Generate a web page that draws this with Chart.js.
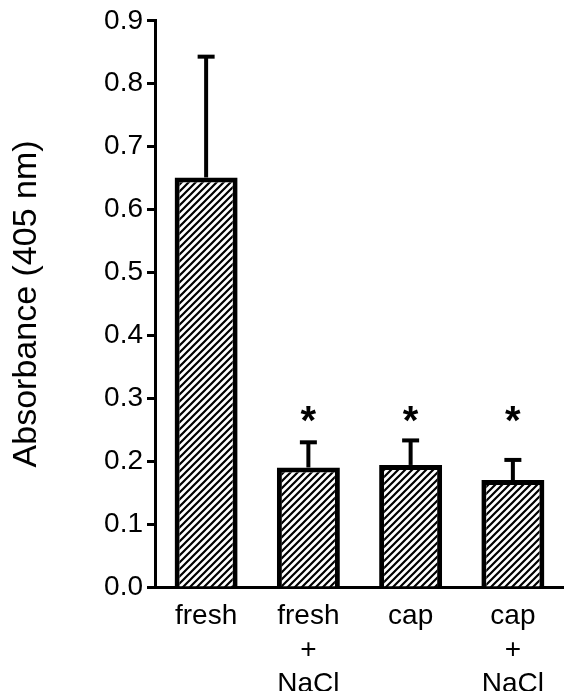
<!DOCTYPE html>
<html><head><meta charset="utf-8">
<script src="https://cdn.jsdelivr.net/npm/chart.js@4/dist/chart.umd.min.js"></script>
<style>html,body{margin:0;padding:0;background:#fff;overflow:hidden}#wrap{width:564px;height:691px;position:relative}</style>
</head><body><div id="wrap"><canvas id="c" width="564" height="691"></canvas></div>
<script>
const categories = [["fresh"], ["fresh", "+", "NaCl"], ["cap"], ["cap", "+", "NaCl"]];
const means = [0.651, 0.190, 0.194, 0.170];
const errorTops = [0.843, 0.230, 0.233, 0.202];
const significant = [false, true, true, true];
const markerLevel = 0.279;
const yTickValues = [0.0, 0.1, 0.2, 0.3, 0.4, 0.5, 0.6, 0.7, 0.8, 0.9];
const yTitle = "Absorbance (405 nm)";

const FONT = '"Liberation Sans", Arial, Helvetica, sans-serif';
const canvas = document.getElementById('c');
const ctx = canvas.getContext('2d');

function makeHatch() {
  const s = 7;
  const c = document.createElement('canvas');
  c.width = s; c.height = s;
  const g = c.getContext('2d');
  g.fillStyle = '#fff'; g.fillRect(0, 0, s, s);
  g.strokeStyle = '#000'; g.lineWidth = 2.2;
  g.beginPath();
  g.moveTo(-1, s + 1); g.lineTo(s + 1, -1);
  g.moveTo(-1, 1); g.lineTo(1, -1);
  g.moveTo(s - 1, s + 1); g.lineTo(s + 1, s - 1);
  g.stroke();
  return ctx.createPattern(c, 'repeat');
}

const errorPlugin = {
  id: 'errorBars',
  afterDatasetsDraw(chart) {
    const c = chart.ctx;
    const meta = chart.getDatasetMeta(0);
    const ys = chart.scales.y;
    meta.data.forEach((bar, i) => {
      const x = bar.x;
      const yTop = ys.getPixelForValue(errorTops[i]);
      c.save();
      c.strokeStyle = '#000';
      c.lineWidth = 4;
      c.beginPath(); c.moveTo(x, bar.y); c.lineTo(x, yTop); c.stroke();
      c.lineWidth = 4;
      c.beginPath(); c.moveTo(x - 8.5, yTop); c.lineTo(x + 8.5, yTop); c.stroke();
      if (significant[i]) {
        const size = 40;
        c.fillStyle = '#000';
        c.font = 'bold ' + size + 'px ' + FONT;
        c.textAlign = 'center';
        c.textBaseline = 'alphabetic';
        c.fillText('*', x, ys.getPixelForValue(markerLevel) + 0.57 * size);
      }
      c.restore();
    });
  }
};

new Chart(canvas, {
  type: 'bar',
  data: {
    labels: categories,
    datasets: [{
      data: means,
      backgroundColor: makeHatch(),
      borderColor: '#000',
      borderWidth: 5,
      borderSkipped: 'start',
      barPercentage: 0.616,
      categoryPercentage: 1.0
    }]
  },
  options: {
    responsive: false,
    animation: false,
    devicePixelRatio: 1,
    layout: { padding: { top: 20, right: 0, bottom: 0, left: 0 } },
    plugins: { legend: { display: false }, tooltip: { enabled: false } },
    scales: {
      x: {
        grid: { display: false },
        border: { display: true, width: 3, color: '#000' },
        ticks: {
          color: '#000', padding: 4, maxRotation: 0, autoSkip: false,
          font: { family: FONT, size: 28, lineHeight: 1.22 }
        },
        afterFit(s) { s.height = 104; }
      },
      y: {
        min: 0, max: 0.9,
        afterBuildTicks(s) { s.ticks = yTickValues.map(v => ({ value: v })); },
        grid: { drawOnChartArea: false, drawTicks: true, tickLength: 8, tickWidth: 3, color: '#000' },
        border: { display: true, width: 3, color: '#000' },
        ticks: {
          color: '#000', padding: 4,
          font: { family: FONT, size: 28 },
          callback: v => Number(v).toFixed(1)
        },
        title: {
          display: true, text: yTitle, color: '#000',
          font: { family: FONT, size: 34 },
          padding: { top: 6, bottom: 0 }
        },
        afterFit(s) { s.width = 155; }
      }
    }
  },
  plugins: [errorPlugin]
});
</script></body></html>
